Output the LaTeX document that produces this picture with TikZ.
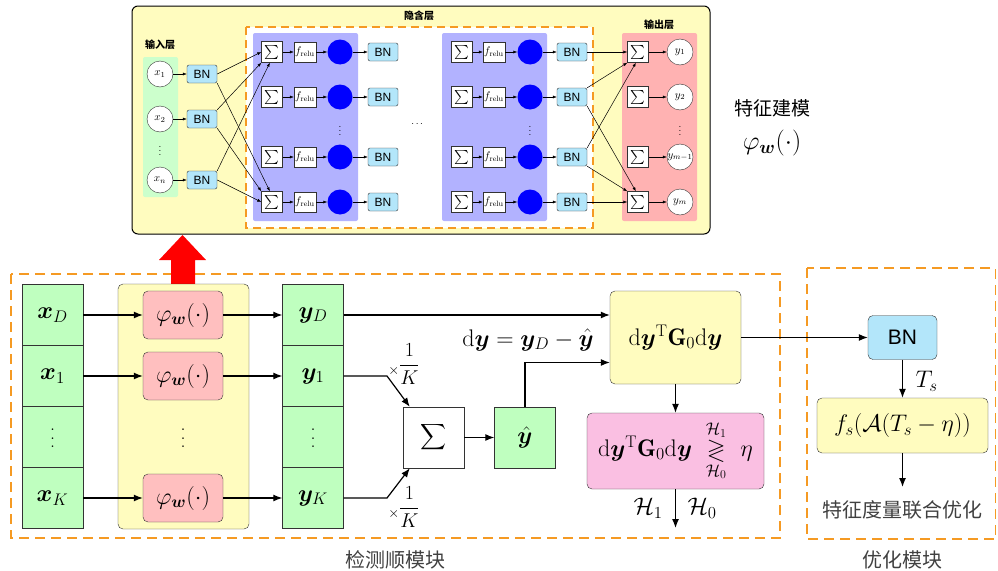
\RequirePackage{fix-cm}
\documentclass[tikz,border=0pt]{standalone}
\usepackage{amsmath,amssymb,bm,graphicx}
\usepackage{fontspec}
\newfontfamily\cjk{Noto Sans CJK SC}
\newfontfamily\bnfont{Liberation Sans}
\usetikzlibrary{arrows.meta,calc}
\definecolor{dorange}{RGB}{245,154,35}
\newcommand{\tallvdots}{\vbox{\fontsize{20}{20}\selectfont\baselineskip8.5pt\lineskiplimit-10pt\kern3pt\hbox{.}\hbox{.}\hbox{.}}}
\newcommand{\timesK}{\raisebox{-4pt}{\fontsize{14}{16}\selectfont$\times$}$\dfrac{1}{K}$}
\tikzset{
 bnbox/.style={draw=black!80, fill=cyan!30, rounded corners=2pt, minimum width=30pt, minimum height=18pt, inner sep=0pt, font=\bnfont\fontsize{12}{13}\selectfont},
 sumsm/.style={draw=black!80, fill=white, minimum size=21pt, inner sep=0pt, font=\fontsize{14}{16}\selectfont},
 relu/.style={draw=black!80, fill=white, minimum width=22pt, minimum height=20pt, inner sep=0pt, font=\fontsize{11}{12}\selectfont},
 neuron/.style={circle, fill=blue, minimum size=25pt, inner sep=0pt},
 io/.style={circle, draw=black!80, fill=white, minimum size=26pt, inner sep=0pt, font=\fontsize{11}{12}\selectfont},
 sarr/.style={-{Latex[length=4pt,width=3pt]}, line width=0.5pt},
 barr/.style={-{Latex[length=9pt,width=7pt]}, line width=1.2pt},
 mathbig/.style={font=\fontsize{24}{28}\selectfont},
 cell/.style={draw=black!80, fill=green!25, minimum width=61pt, minimum height=61pt, inner sep=0pt, mathbig},
 phibox/.style={draw=black!80, fill=red!25, rounded corners=5pt, minimum width=80pt, minimum height=48pt, inner sep=0pt, mathbig},
 rbox/.style={draw=black!80, rounded corners=5pt, inner sep=0pt, mathbig},
 odash/.style={draw=dorange, dash pattern=on 10pt off 6pt, line width=1.5pt},
 odashs/.style={draw=dorange, dash pattern=on 8pt off 5pt, line width=1.2pt},
 ttl/.style={font=\cjk\bfseries\fontsize{10}{12}\selectfont},
 lbl/.style={font=\cjk\fontsize{20}{22}\selectfont, text=black!75},
}
\begin{document}
\begin{tikzpicture}[x=1pt,y=-1pt]
\useasboundingbox (0,0) rectangle (998,570);
% ---------------- top network ----------------
\node[draw=black, fill=yellow!25, rounded corners=6pt, line width=1pt, minimum width=578pt, minimum height=228pt] (top) at (421,120) {};
\node[ttl] (thid) at (419,16) {隐含层};
\draw[odashs, fill=white] (246,27) rectangle (593,228);
\fill[blue!30, rounded corners=2pt] (253,33) rectangle (358,221);
\fill[blue!30, rounded corners=2pt] (442,33) rectangle (547,221);
\fill[green!20, rounded corners=2pt] (143,57) rectangle (178,197);
\fill[red!30, rounded corners=2pt] (622,33) rectangle (697,221);
\node[ttl] (tin) at (160,45) {输入层};
\node[ttl] (tout) at (659,25) {输出层};
% inputs
\foreach \i/\yy/\lab in {1/74/x_1, 2/119/x_2, 3/180/x_n} {
  \node[io] (xi\i) at (160,\yy) {$\lab$};
  \node[bnbox] (bi\i) at (202,\yy) {BN};
  \draw[sarr] (xi\i) -- (bi\i);
}
\node[font=\fontsize{10}{11}\selectfont] (vdi) at (160,148) {$\vdots$};
% hidden rows and outputs
\foreach \r/\yy/\lab in {1/52/y_1, 2/97/y_2, 3/157/y_{m-1}, 4/202/y_m} {
  \node[sumsm] (s\r) at (272,\yy) {$\sum$};
  \node[relu] (f\r) at (305,\yy) {$f_{\mathrm{relu}}$};
  \node[neuron] (n\r) at (340,\yy) {};
  \node[bnbox] (b\r) at (383,\yy) {BN};
  \draw[sarr] (s\r) -- (f\r);
  \draw[sarr] (f\r) -- (n\r);
  \draw[sarr] (n\r) -- (b\r);
  \node[sumsm] (t\r) at (462,\yy) {$\sum$};
  \node[relu] (g\r) at (494,\yy) {$f_{\mathrm{relu}}$};
  \node[neuron] (m\r) at (530,\yy) {};
  \node[bnbox] (c\r) at (572,\yy) {BN};
  \draw[sarr] (t\r) -- (g\r);
  \draw[sarr] (g\r) -- (m\r);
  \draw[sarr] (m\r) -- (c\r);
  \node[sumsm] (o\r) at (638,\yy) {$\sum$};
  \node[io] (yo\r) at (680,\yy) {$\lab$};
  \draw[sarr] (o\r) -- (yo\r);
}
\node[font=\fontsize{10}{11}\selectfont] (vd1) at (340,128) {$\vdots$};
\node[font=\fontsize{10}{11}\selectfont] (vd2) at (530,128) {$\vdots$};
\node[font=\fontsize{10}{11}\selectfont] (vdo) at (680,128) {$\vdots$};
\node[font=\fontsize{10}{11}\selectfont] (hd) at (418,124) {$\cdots$};
% input -> hidden
\draw[sarr] (bi1.east) -- (s1.west);
\draw[sarr] (bi2.north east) -- (s1.south west);
\draw[sarr] (bi3.north east) -- ($(s1.south west)!0.4!(s1.south east)$);
\draw[sarr] (bi1.south east) -- ($(s4.north west)!0.4!(s4.north east)$);
\draw[sarr] (bi2.south east) -- (s4.north west);
\draw[sarr] (bi3.east) -- (s4.west);
% hidden -> output
\draw[sarr] (c1.east) -- (o1.west);
\draw[sarr] (c2.north east) -- (o1.south west);
\draw[sarr] (c3.north east) -- ($(o1.south west)!0.4!(o1.south east)$);
\draw[sarr] (c2.south east) -- ($(o4.north west)!0.4!(o4.north east)$);
\draw[sarr] (c3.south east) -- (o4.north west);
\draw[sarr] (c4.east) -- (o4.west);
% right caption
\node[font=\cjk\fontsize{19}{21}\selectfont] (cap1) at (772,108) {特征建模};
\node[font=\fontsize{26}{30}\selectfont] (cap2) at (772,143) {$\varphi_{\bm{w}}(\cdot)$};
% ---------------- lower part ----------------
\draw[odash] (11,274) rectangle (780,538);
\draw[odash] (807,268) rectangle (995.5,539);
\fill[red] (171,287) -- (171,260) -- (159,260) -- (182.5,235) -- (206,260) -- (195,260) -- (195,287) -- cycle;
\node[draw=black!80, fill=yellow!25, rounded corners=5pt, minimum width=131pt, minimum height=245pt] (phicol) at (183.5,406.5) {};
% input column
\node[cell] (xD) at (52.5,315) {$\bm{x}_D$};
\node[cell] (x1) at (52.5,376) {$\bm{x}_1$};
\node[cell] (xd) at (52.5,437) {\tallvdots};
\node[cell] (xK) at (52.5,498) {$\bm{x}_K$};
% phi
\node[phibox] (p1) at (183,315) {$\varphi_{\bm{w}}(\cdot)$};
\node[phibox] (p2) at (183,376) {$\varphi_{\bm{w}}(\cdot)$};
\node (pd) at (183,437) {\tallvdots};
\node[phibox] (pK) at (183,498) {$\varphi_{\bm{w}}(\cdot)$};
% output column
\node[cell] (yD) at (313,315) {$\bm{y}_D$};
\node[cell] (y1) at (313,376) {$\bm{y}_1$};
\node[cell] (yd) at (313,437) {\tallvdots};
\node[cell] (yK) at (313,498) {$\bm{y}_K$};
\draw[barr] (xD) -- (p1);
\draw[barr] (x1) -- (p2);
\draw[barr] (xK) -- (pK);
\draw[barr] (p1) -- (yD);
\draw[barr] (p2) -- (y1);
\draw[barr] (pK) -- (yK);
% averaging
\node[draw=black!80, fill=white, minimum size=61pt, inner sep=0pt, font=\fontsize{18}{20}\selectfont] (sum) at (433.5,437.5) {$\displaystyle\sum$};
\node[cell] (yhat) at (525,437.5) {$\hat{\bm{y}}$};
\coordinate (k1) at (387,376);
\coordinate (k2) at (387,498);
\draw[barr] (y1.east) -- (k1) -- ($(sum.north west)+(7,0)$);
\draw[barr] (yK.east) -- (k2) -- ($(sum.south west)+(7,0)$);
\node[font=\fontsize{20}{24}\selectfont] (f1) at (404,364) {\timesK};
\node[font=\fontsize{20}{24}\selectfont] (f2) at (404,507) {\timesK};
\draw[barr] (sum) -- (yhat);
% detector
\node[rbox, fill=yellow!25, minimum width=131pt, minimum height=93pt] (dyg) at (675.5,337.5) {$\mathrm{d}\bm{y}^{\mathrm{T}}\mathbf{G}_0\mathrm{d}\bm{y}$};
\node[rbox, fill=magenta!25, minimum width=177pt, minimum height=76pt] (dec) at (675.5,451) {$\mathrm{d}\bm{y}^{\mathrm{T}}\mathbf{G}_0\mathrm{d}\bm{y}\ \underset{\mathcal{H}_0}{\overset{\mathcal{H}_1}{\gtrless}}\ \eta$};
\coordinate (hend) at (675.5,528);
\draw[barr] (yD.east) -- (yD.east -| dyg.west);
\draw[barr] (yhat.north) |- ($(dyg.west)+(0,25)$);
\node[mathbig] (dlab) at (528,340) {$\mathrm{d}\bm{y}=\bm{y}_D-\hat{\bm{y}}$};
\draw[barr] (dyg) -- (dec);
\draw[barr] (dec) -- (hend);
\node[mathbig] (h1) at (648,508) {$\mathcal{H}_1$};
\node[mathbig] (h0) at (702,508) {$\mathcal{H}_0$};
% optimisation
\node[rbox, fill=cyan!30, minimum width=69pt, minimum height=44pt, font=\bnfont\fontsize{21}{24}\selectfont] (bn2) at (902.5,337.5) {BN};
\node[rbox, fill=yellow!25, minimum width=171pt, minimum height=55pt] (fs) at (902.5,425.5) {$f_s(\mathcal{A}(T_s-\eta))$};
\coordinate (fsend) at (902.5,487);
\draw[barr] (dyg.east) -- (bn2);
\draw[barr] (bn2) -- (fs);
\node[mathbig, anchor=west] (ts) at (912,381) {$T_s$};
\draw[barr] (fs) -- (fsend);
\node[lbl] (jt) at (902.5,510) {特征度量联合优化};
\node[lbl] (m1) at (395,560) {检测顺模块};
\node[lbl] (m2) at (902.5,560) {优化模块};
\end{tikzpicture}
\end{document}
